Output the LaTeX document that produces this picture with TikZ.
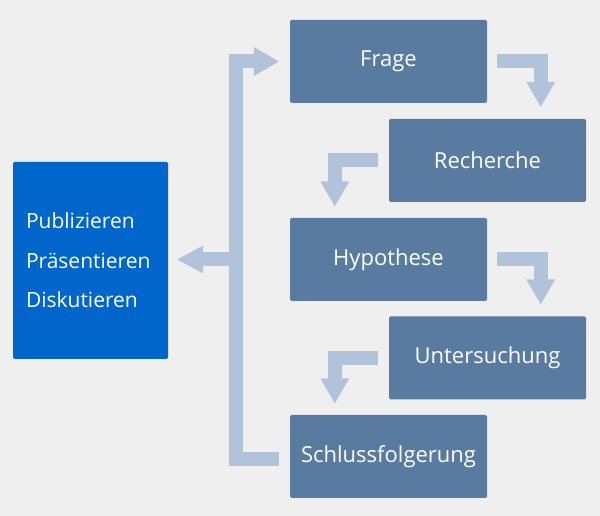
\documentclass[tikz,border=0pt]{standalone}
\usepackage{fontspec}
\setmainfont{Open Sans}
\usetikzlibrary{calc}
\definecolor{bgc}{HTML}{EFEFEF}
\definecolor{boxc}{HTML}{5A7BA0}
\definecolor{arrc}{HTML}{B0C3DA}
\definecolor{leftc}{HTML}{0066CC}
\tikzset{
  stepbox/.style={fill=boxc, rounded corners=1.5pt, minimum width=197pt, minimum height=83pt,
    text=white, font=\fontsize{22}{26}\selectfont, inner sep=0pt},
  shaft/.style={draw=arrc, line width=14pt, line join=miter, line cap=butt},
  headc/.style={fill=arrc},
}
\begin{document}
\begin{tikzpicture}[x=1pt,y=1pt]
\useasboundingbox[fill=bgc] (0,0) rectangle (600,516);
\node[stepbox] (frage) at (388.5,454.5) {Frage};
\node[stepbox] (recherche) at (487.5,355.5) {Recherche};
\node[stepbox] (hypothese) at (388.5,256.5) {Hypothese};
\node[stepbox] (untersuchung) at (487.5,158) {Untersuchung};
\node[stepbox] (schluss) at (388.5,59.5) {Schlussfolgerung};
\node[fill=leftc, rounded corners=1.5pt, minimum width=155pt, minimum height=197pt,
  text=white, align=left, text width=129pt, inner xsep=13pt, inner ysep=0pt,
  font=\fontsize{21}{39.5}\selectfont] (pub) at (90.5,255.5)
  {Publizieren\\Präsentieren\\Diskutieren};
% Frage -> Recherche
\coordinate (t1) at ([xshift=53.5pt,yshift=12pt]frage.east |- recherche.north);
\draw[shaft] ([xshift=10pt]frage.east) -| ($(t1)+(0,24)$);
\fill[headc] ($(t1)+(-14.5,25)$) -- ($(t1)+(14.5,25)$) -- (t1) -- cycle;
% Recherche -> Hypothese
\coordinate (t2) at ([xshift=45pt,yshift=11.5pt]hypothese.west |- hypothese.north);
\draw[shaft] ([xshift=-11pt]recherche.west) -| ($(t2)+(0,24)$);
\fill[headc] ($(t2)+(-14.5,25)$) -- ($(t2)+(14.5,25)$) -- (t2) -- cycle;
% Hypothese -> Untersuchung
\coordinate (t3) at ([xshift=53.5pt,yshift=12pt]hypothese.east |- untersuchung.north);
\draw[shaft] ([xshift=10pt]hypothese.east) -| ($(t3)+(0,24)$);
\fill[headc] ($(t3)+(-14.5,25)$) -- ($(t3)+(14.5,25)$) -- (t3) -- cycle;
% Untersuchung -> Schlussfolgerung
\coordinate (t4) at ([xshift=45pt,yshift=11.5pt]schluss.west |- schluss.north);
\draw[shaft] ([xshift=-11pt]untersuchung.west) -| ($(t4)+(0,24)$);
\fill[headc] ($(t4)+(-14.5,25)$) -- ($(t4)+(14.5,25)$) -- (t4) -- cycle;
% feedback Schlussfolgerung -> Frage
\coordinate (spine) at (236,0);
\coordinate (t5) at ([xshift=-11pt]frage.west);
\draw[shaft] ([xshift=-11pt,yshift=-2.5pt]schluss.west) -- ([yshift=-2.5pt]spine |- schluss.west) -- (spine |- t5) -- ($(t5)+(-24,0)$);
\fill[headc] ($(t5)+(-25,14.5)$) -- ($(t5)+(-25,-14.5)$) -- (t5) -- cycle;
% spine -> Publizieren
\coordinate (t6) at ([xshift=9pt,yshift=1pt]pub.east);
\draw[shaft] (spine |- t6) -- ($(t6)+(25,0)$);
\fill[headc] ($(t6)+(26,14)$) -- ($(t6)+(26,-14)$) -- (t6) -- cycle;
\end{tikzpicture}
\end{document}
